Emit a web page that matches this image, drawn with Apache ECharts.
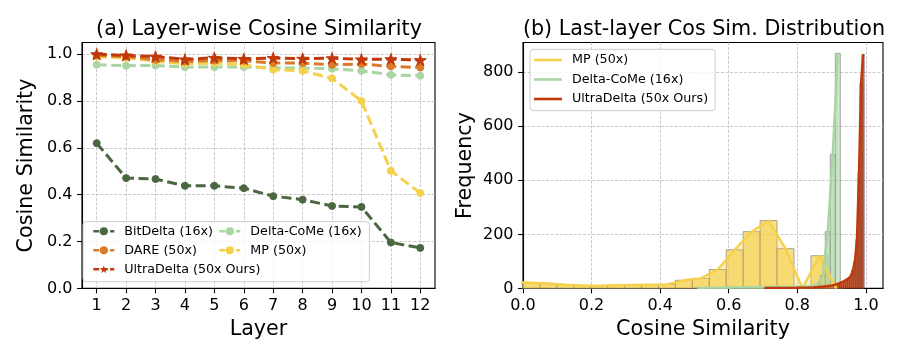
<!DOCTYPE html>
<html><head><meta charset="utf-8">
<script src="https://cdn.jsdelivr.net/npm/echarts@6/dist/echarts.min.js"></script>
<style>html,body{margin:0;padding:0;background:#fff}#c{width:900px;height:345px}</style>
</head><body><div id="c"></div>
<script>
// ---------- (a) Layer-wise cosine similarity ----------
const layers = [1,2,3,4,5,6,7,8,9,10,11,12];
const bitDelta   = [0.620,0.471,0.467,0.438,0.438,0.428,0.394,0.379,0.352,0.348,0.196,0.173];
const dare       = [0.995,0.990,0.976,0.969,0.973,0.972,0.962,0.962,0.955,0.958,0.948,0.943];
const ultraDelta = [1.000,0.995,0.990,0.978,0.985,0.980,0.984,0.981,0.983,0.978,0.979,0.975];
const deltaCoMe  = [0.955,0.951,0.952,0.945,0.945,0.945,0.943,0.941,0.938,0.929,0.912,0.908];
const mp         = [0.990,0.985,0.970,0.959,0.962,0.955,0.934,0.929,0.897,0.800,0.502,0.407];
const yTicksA = [0,0.2,0.4,0.6,0.8,1.0];

// ---------- (b) Last-layer cos-sim distribution (histograms) ----------
const xTicksB = [0,0.2,0.4,0.6,0.8,1.0];
const yTicksB = [0,200,400,600,800];
const mpHistStart = -0.0494, mpHistWidth = 0.0494;
const mpCounts = [24,21,18,14,11,10,12,13,14,15,30,37,70,143,210,251,147,0,121,0];
const dcHistStart = 0.502, dcHistWidth = 0.0146;
const dcCounts = [2,2,3,3,3,3,3,4,4,4,4,4,4,4,5,5,5,5,5,5,6,6,7,10,15,48,210,496,870];
const udHistStart = 0.701, udHistWidth = 0.006;
const udCounts = [1,2,2,2,2,2,2,2,2,2,2,2,2,2,2,2,3,3,3,3,3,3,
                  3,3,4,4,5,5,6,7,8,9,10,11,13,16,18,21,24,28,33,38,46,66,100,181,428,760,866];

const FONT = 'DejaVu Sans';
const C = {
  bit: '#4a6741', dare: '#d97b2b', ud: '#c0390b', dc: '#a8d5a2', mp: '#f5d04a'
};
const STAR = 'path://M0,-1L0.2245,-0.309L0.951,-0.309L0.3633,0.118L0.5878,0.809L0,0.382L-0.5878,0.809L-0.3633,0.118L-0.951,-0.309L-0.2245,-0.309Z';

function pairs(xs, ys){ return xs.map((x,i)=>[x, ys[i]]); }
function bins(start, w, counts){ return counts.map((c,i)=>[start+i*w, start+(i+1)*w, c]); }
function centers(start, w, counts){ return counts.map((c,i)=>[start+(i+0.5)*w, c]); }

function histRender(fill, stroke){
  return function(params, api){
    const a = api.coord([api.value(0), 0]);
    const b = api.coord([api.value(1), api.value(2)]);
    const cs = params.coordSys;
    const r = echarts.graphic.clipRectByRect(
      {x:a[0], y:b[1], width:b[0]-a[0], height:a[1]-b[1]},
      {x:cs.x, y:cs.y, width:cs.width, height:cs.height});
    if (!r) return null;
    return {type:'rect', shape:r, style:{fill:fill, stroke:stroke, lineWidth:0.8}};
  };
}

const gridLine = {show:true, lineStyle:{color:'#c4c4c4', width:0.9, type:[3,1.6]}};
const axisCommon = {
  axisLine:{show:true, onZero:false, lineStyle:{color:'#000', width:1.1}},
  axisTick:{show:true, inside:false, length:4.9, lineStyle:{color:'#000', width:1.1}},
  axisLabel:{color:'#000', fontFamily:FONT, fontSize:16, margin:9.5},
  nameTextStyle:{color:'#000', fontFamily:FONT, fontSize:20.7},
  nameLocation:'middle'
};
function ax(extra){ return echarts.util.merge(echarts.util.clone(axisCommon), extra, true); }

const dashed = [10,4.5];
function lineSeries(name, ys, color, symbol, size){
  return {
    type:'line', name:name, xAxisIndex:0, yAxisIndex:0,
    data: pairs(layers, ys),
    symbol:symbol, symbolSize:size, symbolKeepAspect:true,
    itemStyle:{color:color, borderColor:color},
    lineStyle:{color:color, width:3, type:dashed},
    emphasis:{disabled:true}, animation:false
  };
}

const legendTxt = {fontFamily:FONT, fontSize:12.7, color:'#000', lineHeight:14, padding:[0,0,0,5]};
const rightNames = {mpB:'MP (50x)', dcB:'Delta-CoMe (16x)', udB:'UltraDelta (50x Ours)'};
const legLine = {type:[6,2.4], width:2.6};

const option = {
  animation:false,
  backgroundColor:'#fff',
  title:[
    {text:'(a) Layer-wise Cosine Similarity', left:254, top:14, textAlign:'center',
     textStyle:{fontFamily:FONT, fontSize:20.7, fontWeight:'normal', color:'#000'}},
    {text:'(b) Last-layer Cos Sim. Distribution', left:699, top:14, textAlign:'center',
     textStyle:{fontFamily:FONT, fontSize:20.7, fontWeight:'normal', color:'#000'}}
  ],
  grid:[
    {left:82, right:465, top:42.5, bottom:56, show:true, borderColor:'#000', borderWidth:1.1, backgroundColor:'transparent'},
    {left:523, right:17, top:42.5, bottom:56, show:true, borderColor:'#000', borderWidth:1.1, backgroundColor:'transparent'}
  ],
  xAxis:[
    ax({gridIndex:0, type:'value', min:0.5, max:12.5, name:'Layer', nameGap:30.6,
        splitLine:{show:false},
        axisTick:{customValues:layers},
        axisLabel:{customValues:layers}}),
    ax({gridIndex:1, type:'value', min:0, max:1.05, interval:0.2, name:'Cosine Similarity', nameGap:30.6,
        splitLine:gridLine,
        axisTick:{customValues:xTicksB},
        axisLabel:{customValues:xTicksB, formatter:v=>v.toFixed(1)}})
  ],
  yAxis:[
    ax({gridIndex:0, type:'value', min:0, max:1.05, interval:0.2, name:'Cosine Similarity', nameGap:44.6,
        splitLine:gridLine,
        axisTick:{customValues:yTicksA},
        axisLabel:{customValues:yTicksA, formatter:v=>v.toFixed(1)}}),
    ax({gridIndex:1, type:'value', min:0, max:910, interval:200, name:'Frequency', nameGap:46.6,
        splitLine:gridLine,
        axisTick:{customValues:yTicksB},
        axisLabel:{customValues:yTicksB}})
  ],
  legend:[
    {orient:'vertical', left:83, top:221.7, padding:[2.5,109,5.5,9], itemGap:5,
     itemWidth:21, itemHeight:10, lineStyle:legLine,
     data:['BitDelta (16x)','DARE (50x)','UltraDelta (50x Ours)'],
     textStyle:legendTxt, borderColor:'#cccccc', borderWidth:1, borderRadius:3,
     backgroundColor:'rgba(255,255,255,0.8)', selectedMode:false, z:4},
    {orient:'vertical', left:218, top:224.2, padding:0, itemGap:5,
     itemWidth:21, itemHeight:10, lineStyle:legLine,
     data:['Delta-CoMe (16x)','MP (50x)'],
     textStyle:legendTxt, selectedMode:false, z:5},
    {orient:'vertical', left:530, top:49.3, padding:[3.7,7,4.7,4], itemGap:5.5,
     itemWidth:28, itemHeight:2.6, icon:'rect',
     data:['mpB','dcB','udB'], formatter:n=>rightNames[n],
     textStyle:legendTxt, borderColor:'#cccccc', borderWidth:1, borderRadius:3,
     backgroundColor:'rgba(255,255,255,0.8)', selectedMode:false, z:4}
  ],
  series:[
    // vertical grid lines of panel (a)
    {type:'line', name:'_grid', xAxisIndex:0, yAxisIndex:0, data:[], silent:true,
     markLine:{silent:true, symbol:'none', z:0, animation:false, label:{show:false},
       lineStyle:{color:'#c4c4c4', width:0.9, type:[3,1.6]},
       emphasis:{disabled:true},
       data:layers.map(l=>({xAxis:l}))}},
    lineSeries('BitDelta (16x)', bitDelta, C.bit, 'circle', 7),
    lineSeries('Delta-CoMe (16x)', deltaCoMe, C.dc, 'circle', 7),
    lineSeries('MP (50x)', mp, C.mp, 'circle', 7),
    lineSeries('DARE (50x)', dare, C.dare, 'circle', 7),
    lineSeries('UltraDelta (50x Ours)', ultraDelta, C.ud, STAR, 12),

    // panel (b)
    {type:'custom', name:'mpHist', xAxisIndex:1, yAxisIndex:1, data:bins(mpHistStart, mpHistWidth, mpCounts),
     encode:{x:[0,1], y:2}, renderItem:histRender('rgba(244,208,74,0.68)','rgba(110,110,110,0.75)'), silent:true},
    {type:'line', name:'mpB', xAxisIndex:1, yAxisIndex:1, data:centers(mpHistStart, mpHistWidth, mpCounts),
     symbol:'none', clip:true, itemStyle:{color:C.mp}, lineStyle:{color:C.mp, width:2.4},
     areaStyle:{color:C.mp, opacity:0.3}, silent:true},
    {type:'custom', name:'dcHist', xAxisIndex:1, yAxisIndex:1, data:bins(dcHistStart, dcHistWidth, dcCounts),
     encode:{x:[0,1], y:2}, renderItem:histRender('rgba(168,213,162,0.55)','rgba(110,110,110,0.75)'), silent:true},
    {type:'line', name:'dcB', xAxisIndex:1, yAxisIndex:1, data:centers(dcHistStart, dcHistWidth, dcCounts),
     symbol:'none', clip:true, itemStyle:{color:C.dc}, lineStyle:{color:C.dc, width:2.4},
     areaStyle:{color:C.dc, opacity:0.3}, silent:true},
    {type:'custom', name:'udHist', xAxisIndex:1, yAxisIndex:1, data:bins(udHistStart, udHistWidth, udCounts),
     encode:{x:[0,1], y:2}, renderItem:histRender('rgba(192,57,11,0.72)','rgba(80,60,50,0.7)'), silent:true},
    {type:'line', name:'udB', xAxisIndex:1, yAxisIndex:1, data:centers(udHistStart, udHistWidth, udCounts),
     symbol:'none', clip:true, itemStyle:{color:C.ud}, lineStyle:{color:C.ud, width:2.4},
     areaStyle:{color:C.ud, opacity:0.3}, silent:true}
  ]
};
const chart = echarts.init(document.getElementById('c'), null, {renderer:'canvas'});
chart.setOption(option);
</script></body></html>
